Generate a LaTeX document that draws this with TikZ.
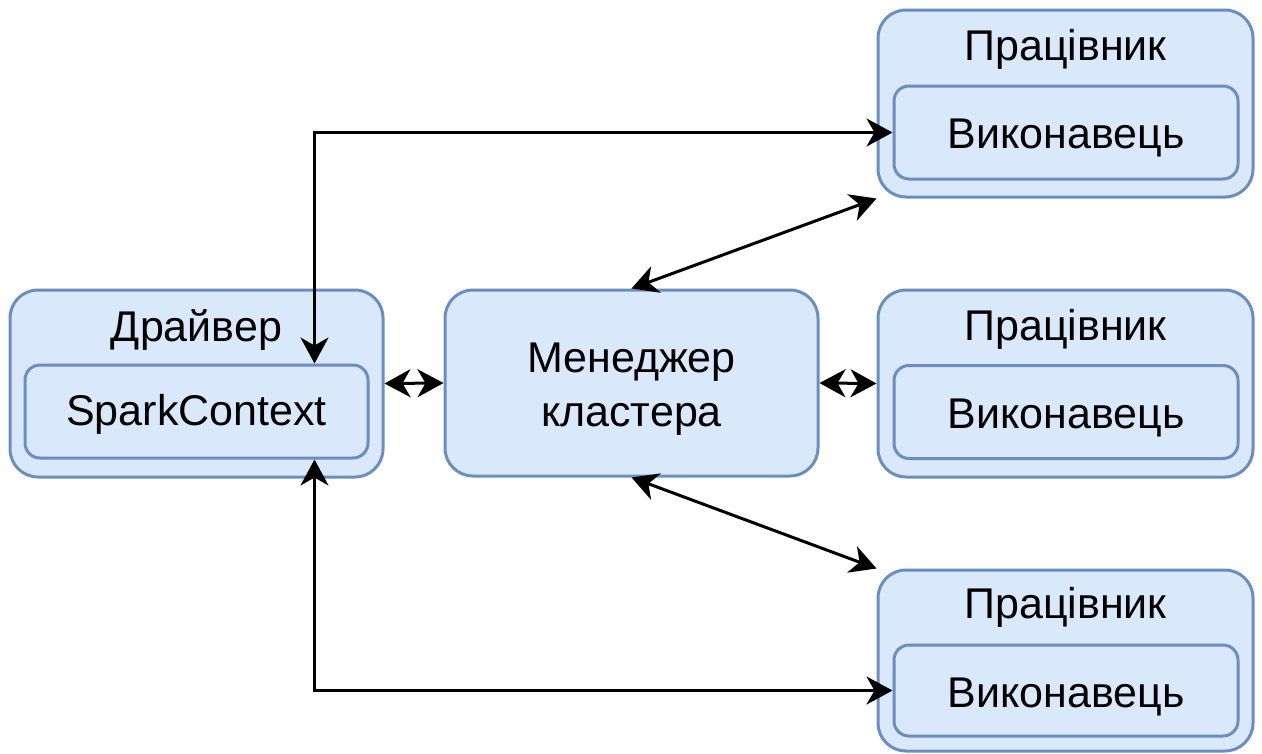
\documentclass[tikz,border=0pt]{standalone}
\usepackage{fontspec}
\setmainfont{Liberation Sans}
\usetikzlibrary{arrows.meta}
\definecolor{boxfill}{HTML}{DAE8FC}
\definecolor{boxline}{HTML}{6C8EBF}
\begin{document}
\begin{tikzpicture}[x=1pt,y=-1pt,
  outerbox/.style={rectangle, draw=boxline, fill=boxfill, line width=3pt,
    rounded corners=28pt, inner sep=0pt},
  innerbox/.style={rectangle, draw=boxline, fill=boxfill, line width=3pt,
    rounded corners=15pt, inner sep=0pt},
  lbl/.style={font=\fontsize{43}{54}\selectfont, inner sep=0pt, anchor=base},
  conn/.style={line width=3pt, >={Stealth[length=26pt,width=28pt,inset=8pt]}, <->}]
\useasboundingbox (0,0) rectangle (1262,753);

% driver with its SparkContext
\node[outerbox, minimum width=373pt, minimum height=187pt] (drv) at (196.5,383.5) {};
\node[lbl] (drvt) at (196.5,341) {Драйвер};
\node[innerbox, minimum width=343pt, minimum height=93pt] (ctx) at (196.5,411.5) {};
\node[lbl] (ctxt) at (196.5,425) {SparkContext};

% cluster manager
\node[outerbox, minimum width=373pt, minimum height=186pt] (mgr) at (631.5,383) {};
\node[lbl] (mgrt1) at (631.5,372) {Менеджер};
\node[lbl] (mgrt2) at (631.5,426) {кластера};

% workers with executors
\node[outerbox, minimum width=375pt, minimum height=187pt] (w1) at (1065.5,103.5) {};
\node[lbl] (w1t) at (1065.5,60) {Працівник};
\node[innerbox, minimum width=344pt, minimum height=93pt] (ex1) at (1066,132.5) {};
\node[lbl] (ex1t) at (1066,148) {Виконавець};

\node[outerbox, minimum width=375pt, minimum height=187pt] (w2) at (1065.5,383.5) {};
\node[lbl] (w2t) at (1065.5,340) {Працівник};
\node[innerbox, minimum width=344pt, minimum height=93pt] (ex2) at (1066,412) {};
\node[lbl] (ex2t) at (1066,428) {Виконавець};

\node[outerbox, minimum width=375pt, minimum height=181pt] (w3) at (1065.5,660.5) {};
\node[lbl] (w3t) at (1065.5,618) {Працівник};
\node[innerbox, minimum width=344pt, minimum height=91pt] (ex3) at (1066,690.5) {};
\node[lbl] (ex3t) at (1066,707) {Виконавець};

% connections
\draw[conn] ([xshift=291pt]ctx.north west) |- (ex1.west);
\draw[conn] ([xshift=291pt]ctx.south west) |- (ex3.west);
\draw[conn] (drv.east) -- (mgr.west);
\draw[conn] (mgr.east) -- (w2.west);
\draw[conn] (mgr.north) -- (w1.south west);
\draw[conn] (mgr.south) -- (w3.north west);
\end{tikzpicture}
\end{document}
